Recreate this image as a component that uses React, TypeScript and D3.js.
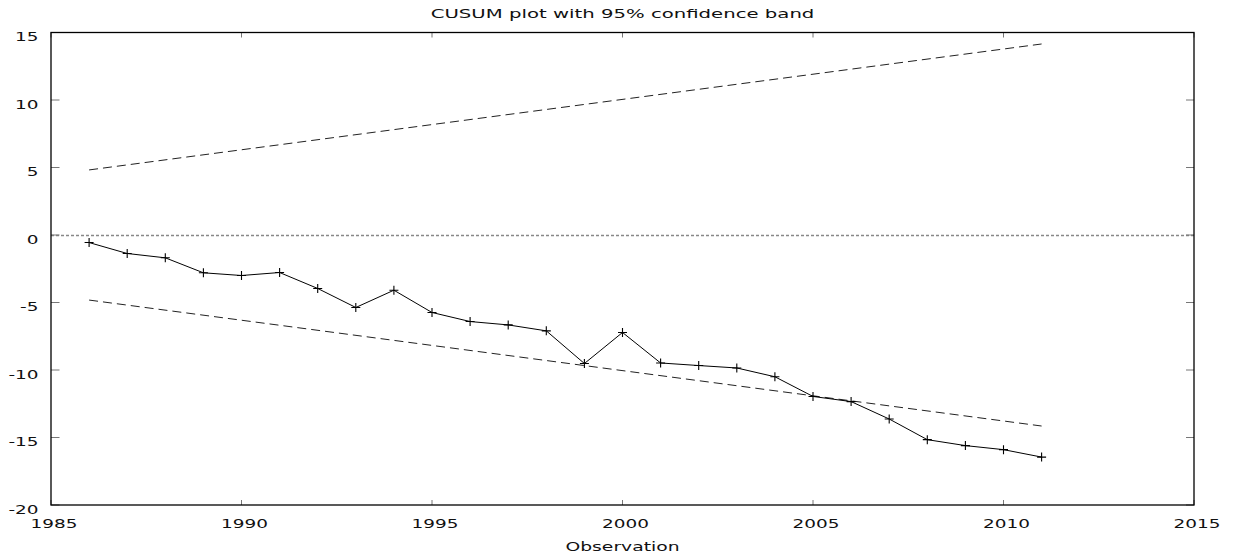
import React, { useRef, useEffect } from "react";
import * as d3 from "d3";

// CUSUM values by year
const years = [
  1986, 1987, 1988, 1989, 1990, 1991, 1992, 1993, 1994, 1995, 1996, 1997, 1998,
  1999, 2000, 2001, 2002, 2003, 2004, 2005, 2006, 2007, 2008, 2009, 2010, 2011,
];
const cusum = [
  -0.56, -1.37, -1.69, -2.8, -3.0, -2.78, -3.96, -5.37, -4.09, -5.74, -6.41,
  -6.66, -7.1, -9.52, -7.22, -9.48, -9.67, -9.85, -10.5, -11.96, -12.34, -13.63,
  -15.16, -15.6, -15.9, -16.45,
];

// 95% band end points
const bandYears = [1986, 2011];
const bandUpper = [4.82, 14.15];
const bandLower = [-4.82, -14.15];

const xTicks = [1985, 1990, 1995, 2000, 2005, 2010, 2015];
const yTicks = [-20, -15, -10, -5, 0, 5, 10, 15];

const App = () => {
  const ref = useRef<SVGSVGElement>(null);

  useEffect(() => {
    const width = 1236;
    const height = 557;
    const left = 51;
    const right = 1194;
    const top = 32.5;
    const bottom = 505;
    const font = "DejaVu Sans";

    const x = d3.scaleLinear().domain([1985, 2015]).range([left, right]);
    const y = d3.scaleLinear().domain([-20, 15]).range([bottom, top]);

    const svg = d3.select(ref.current);
    svg.selectAll("*").remove();
    svg.attr("width", width).attr("height", height);

    // glyphs in the reference are drawn wide, so stretch the text horizontally
    const label = (
      tx: number,
      ty: number,
      str: string,
      anchor: string,
      size: number,
      stretch = 1.5
    ) =>
      svg
        .append("text")
        .attr("transform", `translate(${tx},${ty}) scale(${stretch},1)`)
        .attr("text-anchor", anchor)
        .attr("font-family", font)
        .attr("font-size", size)
        .attr("fill", "#111")
        .text(str);

    // zero line
    svg
      .append("line")
      .attr("x1", left)
      .attr("x2", right)
      .attr("y1", Math.round(y(0)) + 0.5)
      .attr("y2", Math.round(y(0)) + 0.5)
      .attr("stroke", "#888")
      .attr("stroke-width", 1.4)
      .attr("stroke-dasharray", "3,2");

    // ticks
    const tickColor = "#777";
    yTicks.forEach((t) => {
      const ty = y(t);
      svg.append("line").attr("x1", left).attr("x2", left + 8.5)
        .attr("y1", ty).attr("y2", ty).attr("stroke", tickColor);
      svg.append("line").attr("x1", right).attr("x2", right - 8)
        .attr("y1", ty).attr("y2", ty).attr("stroke", tickColor);
      label(38.5, ty + 8.5, String(t), "end", 12.3);
    });
    xTicks.forEach((t) => {
      const tx = x(t);
      svg.append("line").attr("x1", tx).attr("x2", tx)
        .attr("y1", bottom).attr("y2", bottom - 5).attr("stroke", tickColor);
      svg.append("line").attr("x1", tx).attr("x2", tx)
        .attr("y1", top).attr("y2", top + 5).attr("stroke", tickColor);
      label(tx + 3, 528, String(t), "middle", 12.3);
    });

    // frame
    svg
      .append("rect")
      .attr("x", left)
      .attr("y", top)
      .attr("width", right - left)
      .attr("height", bottom - top)
      .attr("fill", "none")
      .attr("stroke", "#000")
      .attr("stroke-width", 1.3);

    // confidence band
    const band = d3
      .line<number>()
      .x((_, i) => x(bandYears[i]))
      .y((d) => y(d));
    [bandUpper, bandLower].forEach((b) => {
      svg
        .append("path")
        .datum(b)
        .attr("d", band)
        .attr("fill", "none")
        .attr("stroke", "#222")
        .attr("stroke-width", 1)
        .attr("stroke-dasharray", "9,5");
    });

    // cusum line
    const line = d3
      .line<number>()
      .x((_, i) => x(years[i]))
      .y((d) => y(d));
    svg
      .append("path")
      .datum(cusum)
      .attr("d", line)
      .attr("fill", "none")
      .attr("stroke", "#000")
      .attr("stroke-width", 1);

    const h = 4.5;
    svg
      .append("g")
      .selectAll("path")
      .data(cusum)
      .join("path")
      .attr("d", (d, i) => {
        const px = x(years[i]);
        const py = y(d);
        return `M${px - h},${py}H${px + h}M${px},${py - h}V${py + h}`;
      })
      .attr("stroke", "#000")
      .attr("stroke-width", 1.1)
      .attr("fill", "none");

    // titles
    label((left + right) / 2, 18, "CUSUM plot with 95% confidence band", "middle", 12.3, 1.6);
    label((left + right) / 2, 550.5, "Observation", "middle", 12.5);
  }, []);

  return (
    <svg
      ref={ref}
      style={{ position: "absolute", left: 0, top: 0, background: "#fff" }}
    />
  );
};

export default App;
